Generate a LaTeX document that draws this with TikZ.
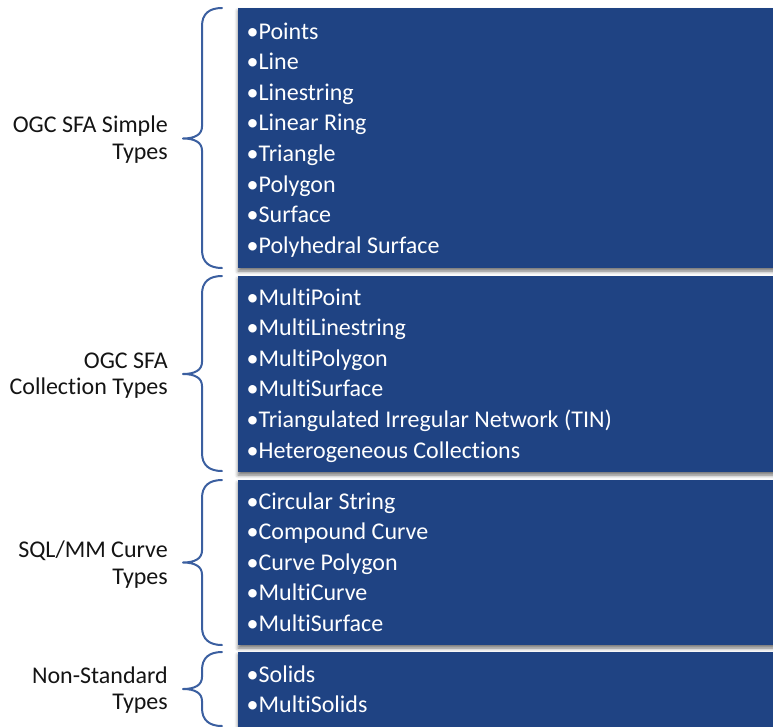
\documentclass[tikz,border=0pt]{standalone}
\usepackage{fontspec}
\setmainfont{Carlito}[Ligatures=NoCommon]
\usetikzlibrary{shadows.blur}

\definecolor{panelblue}{RGB}{31,67,131}
\definecolor{bracecol}{RGB}{59,95,160}
\definecolor{labeltext}{RGB}{20,20,20}

\tikzset{
  panel/.style={fill=panelblue, draw=none,
    blur shadow={shadow xshift=0pt, shadow yshift=-3pt,
                 shadow blur radius=3.5pt, shadow opacity=55}},
  item/.style={anchor=base west, inner sep=0pt, text=white,
    font=\fontsize{24}{28}\selectfont},
  grouplabel/.style={anchor=base east, inner sep=0pt, text=labeltext,
    font=\fontsize{24}{28}\selectfont},
  bracepath/.style={draw=bracecol, line width=2pt, line cap=round, line join=round}
}

% curly brace opening to the right: x of the hooks, top, middle, bottom
\newcommand{\groupbrace}[4]{%
  \draw[bracepath] (#1,#2)
    .. controls ({#1-13},#2) and ({#1-20},{#2+6}) .. ({#1-20},{#2+18})
    -- ({#1-20},{#3-12})
    .. controls ({#1-20},{#3-4}) and ({#1-27},#3) .. ({#1-39},#3)
    .. controls ({#1-27},#3) and ({#1-20},{#3+4}) .. ({#1-20},{#3+12})
    -- ({#1-20},{#4-18})
    .. controls ({#1-20},{#4-6}) and ({#1-13},#4) .. (#1,#4);}

\begin{document}
\begin{tikzpicture}[x=1pt, y=-1pt]
\useasboundingbox (0,0) rectangle (773,726);

% blue panels
\path[panel] (238,8)   rectangle (790,268);
\path[panel] (238,276) rectangle (790,472);
\path[panel] (238,480) rectangle (790,645);
\path[panel] (238,652) rectangle (790,740);

% braces
\groupbrace{222}{8}{138.5}{268}
\groupbrace{222}{276}{374}{471}
\groupbrace{222}{480}{562.5}{645}
\groupbrace{222}{652}{689}{726}

% group labels
\node[grouplabel] (g1a) at (168,132.5) {OGC SFA Simple};
\node[grouplabel] (g1b) at (168,159.5) {Types};
\node[grouplabel] (g2a) at (168,368) {OGC SFA};
\node[grouplabel] (g2b) at (168,394.5) {Collection Types};
\node[grouplabel] (g3a) at (168,557.5) {SQL/MM Curve};
\node[grouplabel] (g3b) at (168,584) {Types};
\node[grouplabel] (g4a) at (168,683.5) {Non-Standard};
\node[grouplabel] (g4b) at (168,709.5) {Types};

% panel items
\foreach \t [count=\i] in {Points, Line, Linestring, Linear Ring, Triangle,
    Polygon, Surface, Polyhedral Surface}
  \node[item] (s\i) at (246.5,{39+30.6*(\i-1)}) {•\t};

\foreach \t [count=\i] in {MultiPoint, MultiLinestring, MultiPolygon,
    MultiSurface, Triangulated Irregular Network (TIN), Heterogeneous Collections}
  \node[item] (c\i) at (246.5,{305+30.6*(\i-1)}) {•\t};

\foreach \t [count=\i] in {Circular String, Compound Curve, Curve Polygon,
    MultiCurve, MultiSurface}
  \node[item] (q\i) at (246.5,{509+30.6*(\i-1)}) {•\t};

\foreach \t [count=\i] in {Solids, MultiSolids}
  \node[item] (n\i) at (246.5,{682+30.6*(\i-1)}) {•\t};
\end{tikzpicture}
\end{document}
